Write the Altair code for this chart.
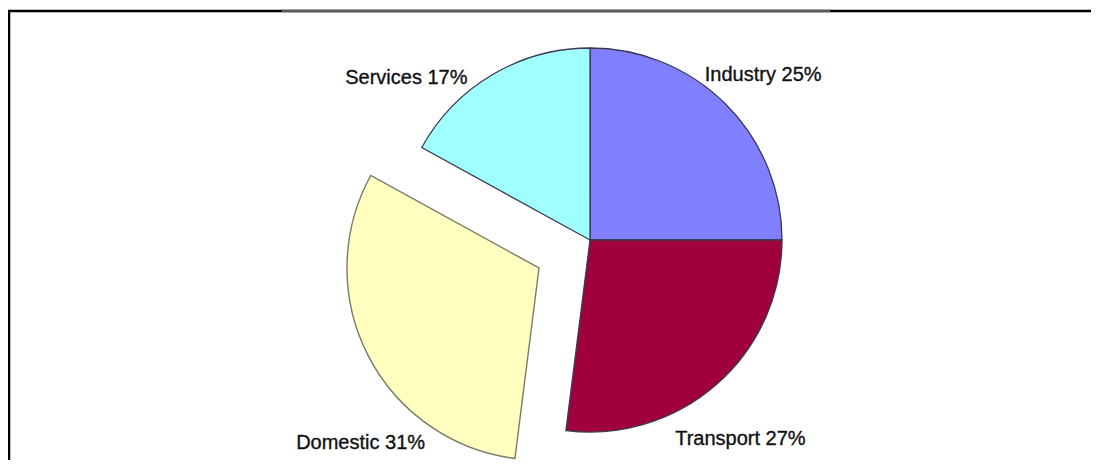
import math
import altair as alt
import pandas as pd

# ---- data ----
categories = ["Industry", "Transport", "Domestic", "Services"]
shares = [25, 27, 31, 17]
labels = ["Industry 25%", "Transport 27%", "Domestic 31%", "Services 17%"]
colors = ["#8080FF", "#A0003C", "#FFFFC0", "#A0FFFF"]

df = pd.DataFrame({"category": categories, "share": shares, "label": labels,
                   "order": list(range(len(categories)))})

# ---- style / layout ----
R = 192
EXPLODED = "Domestic"
EXPLODE_DX, EXPLODE_DY = -51, 28
LABEL_R = 235
label_nudge = {"Industry": (7, 1), "Transport": (-5, 23),
               "Domestic": (-20, 96), "Services": (-64, 40)}

theta_scale = alt.Scale(domain=[0, 100], range=[0, 2 * math.pi])
color = alt.Color("category:N", scale=alt.Scale(domain=categories, range=colors), legend=None)

base = (alt.Chart(df)
        .transform_window(cum="sum(share)", sort=[alt.SortField("order")])
        .transform_calculate(start="datum.cum - datum.share",
                             mid="datum.cum - datum.share / 2"))

arc_enc = dict(theta=alt.Theta("start:Q", scale=theta_scale, stack=None),
               theta2=alt.Theta2("cum:Q"), color=color)

pie = (base.transform_filter(f"datum.category != '{EXPLODED}'")
       .mark_arc(outerRadius=R, stroke="#3a3a52", strokeWidth=1.3)
       .encode(**arc_enc))

explode = (base.transform_filter(f"datum.category == '{EXPLODED}'")
           .mark_arc(outerRadius=R, stroke="#7a7a68", strokeWidth=1.4,
                     xOffset=EXPLODE_DX, yOffset=EXPLODE_DY)
           .encode(**arc_enc))

text_layers = []
for cat in categories:
    dx, dy = label_nudge[cat]
    text_layers.append(
        base.transform_filter(f"datum.category == '{cat}'")
        .mark_text(font="Liberation Sans", fontSize=20, color="#111111",
                   stroke="#111111", strokeWidth=0.35, dx=dx, dy=dy)
        .encode(theta=alt.Theta("mid:Q", scale=theta_scale, stack=None),
                radius=alt.value(LABEL_R), text="label:N")
    )

one = pd.DataFrame({"k": [0]})
top_rule = alt.Chart(one).mark_rule(color="#000000", strokeWidth=2.5).encode(
    x=alt.value(-82), x2=alt.value(1001), y=alt.value(-9))
top_grey = alt.Chart(one).mark_rule(color="#5a5a5a", strokeWidth=2.5).encode(
    x=alt.value(192), x2=alt.value(740), y=alt.value(-9))
left_rule = alt.Chart(one).mark_rule(color="#000000", strokeWidth=2.5).encode(
    x=alt.value(-81), y=alt.value(-10), y2=alt.value(440))

chart = (alt.layer(pie, explode, *text_layers, top_rule, top_grey, left_rule)
         .properties(width=1000, height=440,
                     autosize=alt.AutoSizeParams(type="none"),
                     padding={"left": 82, "top": 12, "right": 1, "bottom": 4})
         .configure_view(stroke=None))

chart.save("out.html", embed_options={"renderer": "svg", "actions": False})
